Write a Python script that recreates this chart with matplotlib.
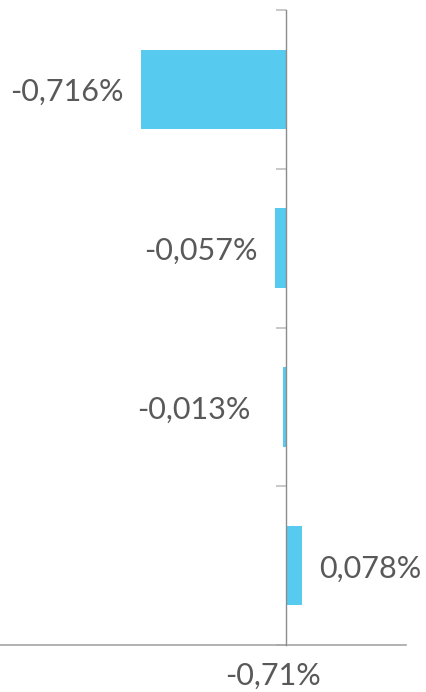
import matplotlib.pyplot as plt

# Data
categories = ["A", "B", "C", "D"]
values = [-0.716, -0.057, -0.013, 0.078]
value_labels = ["-0,716%", "-0,057%", "-0,013%", "0,078%"]
x_tick_pos = [-0.064]
x_tick_labels = ["-0,71%"]

plt.rcParams['font.family'] = ['Lato', 'DejaVu Sans']

W, H = 427, 692
fig = plt.figure(figsize=(W / 100, H / 100), dpi=100)
# axes box: left edge at 0 px, right at 406 px, top at 10 px, bottom at 645 px
ax = fig.add_axes([0, 1 - 645 / H, 406 / W, (645 - 10) / H])

bar_color = '#56CBEF'
text_color = '#595959'
fsize = 22

ypos = list(range(len(categories)))
ax.barh(ypos, values, height=0.5, color=bar_color, zorder=2)

ax.set_xlim(-1.416, 0.594)
ax.set_ylim(len(categories) - 0.5, -0.5)

# value labels next to bar ends
gaps = [12.5, 12.5, 23.5, 12.5]
for y, v, lab, g in zip(ypos, values, value_labels, gaps):
    if v < 0:
        ax.annotate(lab, (v, y), xytext=(-g, -2), textcoords='offset points',
                    ha='right', va='center', fontsize=fsize, color=text_color)
    else:
        ax.annotate(lab, (v, y), xytext=(g, -2), textcoords='offset points',
                    ha='left', va='center', fontsize=fsize, color=text_color)

# spines
for s in ['top', 'right']:
    ax.spines[s].set_visible(False)
ax.spines['left'].set_position(('data', 0))
ax.spines['left'].set_color('#8c8c8c')
ax.spines['left'].set_linewidth(1.0)
ax.spines['left'].set_zorder(3)
ax.spines['bottom'].set_color('#a6a6a6')
ax.spines['bottom'].set_linewidth(1.2)

# category boundary ticks on the vertical axis
ax.set_yticks([i - 0.5 for i in range(len(categories) + 1)])
ax.set_yticklabels([])
ax.tick_params(axis='y', direction='out', length=7.5, width=1.2, color='#bfbfbf')

ax.set_xticks(x_tick_pos)
ax.set_xticklabels(x_tick_labels, fontsize=fsize, color=text_color)
ax.tick_params(axis='x', length=0, pad=12)

fig.savefig('out.png', dpi=100)
